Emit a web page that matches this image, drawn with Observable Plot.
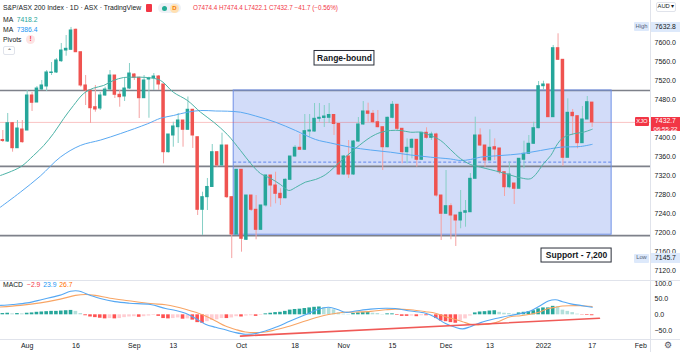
<!DOCTYPE html>
<html><head><meta charset="utf-8">
<script src="https://cdn.jsdelivr.net/npm/d3@7"></script>
<script src="https://cdn.jsdelivr.net/npm/@observablehq/plot@0.6"></script>
<style>
html,body{margin:0;padding:0;background:#fff;}
#wrap{position:relative;width:680px;height:352px;overflow:hidden;font-family:"Liberation Sans",Arial,sans-serif;color:#131722;background:#fff;}
.abs{position:absolute;white-space:nowrap;line-height:1;}
.bx{position:absolute;white-space:nowrap;display:flex;align-items:center;justify-content:center;line-height:1;}
</style></head><body><div id="wrap"></div>
<script>
// ---------- DATA ----------
const startIndex = -5; // trading-day index of first visible candle (0 = 2 Aug 2021)
const opens = [
7395.6,7392.4,7431.0,7378.3,7417.7,7415.6,7489.4,7474.6,7502.0,7508.4,
7536.8,7537.9,7561.7,7584.2,7585.7,7627.9,7580.6,7510.5,7499.9,7464.7,
7462.0,7489.4,7502.0,7531.5,7490.9,7487.3,7504.1,7533.6,7526.7,7483.7,
7523.1,7525.8,7529.4,7512.6,7369.9,7405.1,7422.6,7436.7,7417.1,7459.3,
7401.5,7248.5,7275.1,7296.6,7369.9,7341.9,7384.0,7275.1,7196.4,7332.8,
7185.3,7278.6,7248.5,7206.3,7257.6,7320.8,7299.7,7282.2,7272.9,7311.7,
7360.8,7379.2,7375.0,7413.5,7413.5,7440.3,7442.0,7442.4,7448.3,7429.3,
7322.9,7360.8,7322.9,7392.4,7428.3,7455.7,7450.8,7433.1,7422.6,7380.4,
7442.4,7469.8,7419.2,7369.9,7379.2,7396.0,7353.9,7410.8,7400.2,7407.2,
7278.6,7240.1,7256.1,7236.5,7226.0,7242.2,7243.4,7313.8,7405.1,7384.0,
7352.4,7380.4,7377.7,7327.7,7296.1,7303.9,7292.8,7353.9,7366.5,7387.6,
7420.5,7509.0,7512.6,7443.7,7589.1,7564.6,7358.1,7452.9,7445.8,7388.9,
7438.8,7474.4];
const highs = [
7415.6,7451.5,7432.5,7436.7,7436.7,7499.9,7495.7,7508.4,7521.0,7542.1,
7558.9,7567.4,7599.0,7615.8,7632.8,7629.5,7580.6,7531.5,7502.0,7510.5,
7495.7,7506.9,7542.1,7531.5,7499.9,7525.2,7556.8,7535.7,7527.9,7531.5,
7527.9,7535.7,7531.5,7512.6,7407.2,7433.1,7451.5,7436.7,7486.2,7459.9,
7401.5,7285.6,7314.5,7386.1,7371.4,7409.9,7384.0,7275.1,7332.8,7332.8,
7278.6,7278.6,7278.6,7257.6,7320.8,7320.8,7327.7,7292.8,7313.8,7360.8,
7384.0,7407.2,7449.3,7449.3,7472.5,7472.5,7468.3,7472.5,7449.3,7429.3,
7362.9,7394.5,7394.5,7443.0,7476.7,7473.2,7457.8,7457.8,7422.6,7443.7,
7476.7,7470.4,7419.8,7398.1,7398.1,7396.0,7412.0,7421.3,7412.0,7409.9,
7278.6,7331.3,7261.1,7236.5,7289.2,7268.1,7325.0,7443.7,7419.2,7384.0,
7417.1,7398.1,7377.7,7327.7,7348.8,7303.9,7356.0,7393.1,7405.1,7433.1,
7518.9,7519.5,7512.6,7594.8,7619.4,7564.6,7482.4,7459.9,7445.8,7466.2,
7487.3,7474.4];
const lows = [
7390.3,7390.3,7369.9,7377.7,7388.9,7415.6,7455.7,7474.6,7499.9,7497.8,
7531.5,7535.7,7558.9,7572.2,7584.2,7580.0,7506.9,7468.3,7430.4,7454.2,
7457.8,7487.3,7499.9,7483.1,7464.7,7476.7,7502.0,7521.0,7440.9,7483.1,
7441.5,7499.9,7499.9,7345.4,7368.2,7380.4,7388.2,7380.4,7415.6,7377.7,
7236.5,7194.3,7247.0,7296.1,7338.3,7339.8,7272.3,7145.7,7194.3,7159.2,
7183.8,7244.9,7185.3,7204.9,7254.0,7254.0,7261.1,7257.6,7271.7,7310.3,
7359.4,7373.5,7373.5,7401.5,7412.0,7433.1,7422.0,7430.4,7405.1,7320.8,
7320.8,7314.5,7320.8,7390.3,7426.2,7433.1,7429.7,7421.3,7331.3,7379.2,
7440.3,7415.6,7345.4,7345.4,7356.0,7338.3,7352.4,7397.3,7394.5,7275.1,
7183.8,7238.6,7185.3,7171.2,7208.5,7211.8,7243.4,7313.8,7381.9,7338.3,
7352.4,7352.4,7322.9,7276.5,7292.8,7259.7,7292.8,7334.9,7366.5,7386.1,
7419.2,7499.9,7443.7,7443.7,7563.2,7339.8,7358.1,7405.1,7377.1,7388.9,
7438.8,7422.1];
const closes = [
7393.5,7431.0,7378.3,7419.8,7391.0,7489.4,7474.0,7504.1,7510.5,7537.9,
7537.9,7563.2,7584.2,7587.8,7626.4,7580.6,7510.5,7499.9,7462.6,7459.9,
7489.4,7502.0,7531.5,7490.9,7485.8,7504.1,7535.7,7526.7,7483.7,7521.0,
7525.8,7529.4,7512.6,7369.9,7407.2,7424.1,7436.7,7417.1,7459.3,7405.1,
7248.5,7275.1,7296.6,7369.9,7341.9,7384.0,7275.1,7196.4,7332.8,7187.4,
7278.6,7248.5,7206.3,7257.6,7320.8,7299.7,7282.2,7272.9,7311.7,7360.8,
7379.2,7375.0,7414.2,7415.6,7440.3,7442.4,7445.1,7448.3,7429.3,7322.9,
7360.8,7322.9,7392.4,7428.3,7455.7,7450.8,7433.1,7422.6,7380.4,7442.4,
7469.8,7419.2,7369.9,7379.2,7396.0,7353.9,7410.8,7400.2,7407.2,7278.6,
7240.1,7256.1,7236.5,7226.0,7242.2,7245.5,7313.8,7405.1,7384.0,7352.4,
7379.2,7375.6,7327.7,7296.1,7322.9,7292.8,7356.0,7366.5,7387.6,7420.5,
7509.0,7512.6,7443.7,7589.1,7564.6,7358.1,7452.9,7445.8,7388.9,7438.8,
7475.3,7432.7];

// moving averages (index, value)
const maFastIdx = [-5.5,-1.4,1.3,3.4,5.4,7.5,9.5,11.6,13.6,15.7,17.7,19.8,21.8,24.7,27.4,30.0,32.9,35.6,38.3,41.1,43.8,45.9,47.9,50.0,52.0,53.7,55.1,57.1,59.2,61.3,64.3,67.4,70.5,72.5,74.6,76.7,78.7,80.8,82.8,84.9,86.9,89.0,91.0,93.1,97.2,101.3,103.3,104.4,106.0,107.5,108.9,110.1,112.2,114.2,116];
const maFastVal = [7320.8,7338.7,7362.9,7384.0,7409.3,7440.9,7468.3,7493.6,7504.8,7510.5,7521.0,7527.3,7527.9,7527.3,7521.0,7496.3,7478.9,7454.2,7433.1,7407.2,7373.5,7346.1,7325.0,7314.5,7301.8,7289.2,7295.5,7306.7,7312.4,7322.9,7350.3,7377.7,7401.5,7411.4,7415.6,7415.6,7412.0,7412.0,7405.1,7394.5,7375.6,7356.0,7344.0,7338.3,7327.7,7315.9,7313.8,7322.9,7345.4,7362.9,7387.6,7400.8,7408.7,7412.0,7418.2];
const maSlowIdx = [-5.5,-1.4,2.7,6.8,10.9,15.1,19.2,24.7,27.4,30.0,32.9,35.6,38.7,41.1,43.8,46.9,51.0,55.1,59.2,62.3,66.4,70.5,74.6,78.7,82.8,86.9,89.0,91.0,93.1,97.2,101.3,105.4,109.5,113.6,116];
const maSlowVal = [7254.0,7285.6,7319.7,7359.4,7384.0,7395.6,7409.3,7429.7,7441.5,7447.2,7454.2,7457.8,7456.7,7456.3,7454.2,7446.2,7433.1,7415.6,7396.7,7389.3,7380.4,7374.5,7369.9,7364.0,7359.4,7355.6,7352.4,7354.5,7359.4,7362.9,7366.5,7373.5,7380.4,7381.9,7386.4];

// MACD pane
const histVals = [
4,5,3,4,3,5,6,8,9,10,
11,11,12,13,14,11,4,-3,-7,-9,
-11,-13,-12,-13,-12,-9,-7,-6,-8,-6,
-4,-2,-5,-12,-13,-12,-10,-14,-13,-17,
-25,-27,-22,-18,-16,-12,-12,-10,-6,-7,
-4,-3,-5,-2,3,5,7,8,11,15,
17,18,20,22,24,25,23,21,16,6,
2,1,4,6,7,7,5,4,1,3,
3,-2,-5,-5,-4,-6,-3,-3,-2,-12,
-20,-22,-25,-27,-20,-13,-4,6,9,10,
12,13,8,5,4,2,6,8,10,13,
19,22,22,27,26,15,11,7,2,-1,
-2,-2.9];
const macdIdx = [-5.5,-3,0,3.1,6.6,8.9,10.5,13,15,18,21,25.3,28.4,30.5,32.5,34.6,36.6,38.7,40.7,42.8,44.8,46.9,48.9,51,54,57.1,59.8,61.9,63.9,65.4,67.4,70.5,73.6,75.6,78.7,81.8,83.8,85.9,87.9,89.4,91,93.1,96.2,99.2,101.3,103.3,105.4,107,108.5,109.9,111.6,113.6,116];
const macdVals = [30,33,38,49,62,75,76,62,52,42,37,33,20,14,5,-12,-30,-40,-48,-57,-62,-60,-52,-40,-20,0,18,24,16,8,12,18,21,20,12,5,-8,-28,-40,-45,-38,-25,-12,-2,4,12,30,44,48,42,35,30,23.9];
const signalIdx = [-5.5,-1.4,2.7,6.8,9.9,12,14,17,20.8,25.3,28.4,30.5,32.5,34.6,36.6,38.7,40.7,42.8,44.8,46.9,48.9,51,54,57.1,59.8,61.9,63.9,65.4,67.4,70.5,73.6,75.6,78.7,81.8,83.8,85.9,87.9,89.4,91,93.1,96.2,99.2,101.3,103.3,105.4,107,108.5,109.9,111.6,113.6,116];
const signalVals = [25,30,38,50,62,65,62,53,45,36,32,26,18,8,-4,-20,-36,-47,-55,-57,-55,-48,-36,-20,-7,1,6,8,9,11,16,18,16,10,5,-6,-15,-22,-30,-32,-25,-6,-3,2,10,20,24,28,29,29,26.7];
const trendIdx = [43.8, 117.5];
const trendVals = [-68, -11];

// levels & annotations
const levels = [7500, 7340, 7194];
const pivotLevel = 7349;
const rangeStart = 42.4, rangeEnd = 120.0, rangeTop = 7500, rangeBottom = 7196;
const lastClose = 7432.7;
const priceTicks = [7120,7160,7200,7240,7280,7320,7360,7400,7480,7520,7560,7600];
const macdTicks = [-50, 0, 50, 100];
const tickIdx = [0, 10, 22, 30, 44, 55, 65, 75, 86, 95, 106, 116, 126];
const tickLabels = ["Aug","16","Sep","13","Oct","18","Nov","15","Dec","13","2022","17","Feb"];
const notes = [
  {text: "Range-bound", x: 65.15, y: 7567.9, x1: 59.0, x2: 71.3, y1: 7552.6, y2: 7583.2},
  {text: "Support - 7,200", x: 112.8, y: 7152.1, x1: 105.6, x2: 120.0, y1: 7137.4, y2: 7166.9}
];

// ---------- BUILD ----------
const candles = opens.map((o, k) => ({i: startIndex + k, o, h: highs[k], l: lows[k], c: closes[k]}));
const upC = candles.filter(d => d.c >= d.o), dnC = candles.filter(d => d.c < d.o);
const GREEN = "#26a69a", RED = "#ef5350";
const maFast = maFastIdx.map((i, k) => ({i, v: maFastVal[k]}));
const maSlow = maSlowIdx.map((i, k) => ({i, v: maSlowVal[k]}));
const hist = histVals.map((v, k) => {
  const p = k > 0 ? histVals[k - 1] : v;
  const color = v >= 0 ? (v >= p ? "#26a69a" : "#b2dfdb") : (v <= p ? "#ff5252" : "#ffcdd2");
  return {i: startIndex + k, v, color};
});
const macd = macdIdx.map((i, k) => ({i, v: macdVals[k]}));
const signal = signalIdx.map((i, k) => ({i, v: signalVals[k]}));
const trend = trendIdx.map((i, k) => ({i, v: trendVals[k]}));
const tickMap = new Map(tickIdx.map((t, k) => [t, tickLabels[k]]));

const W = 680, RIGHT = 30, MAIN_H = 280, MACD_H = 72;
const xDomain = [-5.48, 127.98];
const FONT = "'Liberation Sans', Arial, sans-serif";
const baseStyle = {fontFamily: FONT, fontSize: "7px", color: "#131722", background: "transparent"};

const main = Plot.plot({
  width: W, height: MAIN_H,
  marginLeft: 0, marginRight: RIGHT, marginTop: 0, marginBottom: 0,
  style: baseStyle,
  x: {domain: xDomain, axis: null},
  y: {domain: [7099.5, 7689.6], axis: "right", ticks: priceTicks, tickFormat: d => d.toFixed(1), tickSize: 0, tickPadding: 4, label: null},
  color: {type: "identity"},
  marks: [
    Plot.rect([{x1: rangeStart, x2: rangeEnd, y1: rangeBottom, y2: rangeTop}], {x1: "x1", x2: "x2", y1: "y1", y2: "y2", fill: "#d2dcf9"}),
    Plot.ruleY(levels, {y: d => d, stroke: "#7e818a", strokeWidth: 1.6}),
    Plot.rect([{x1: rangeStart, x2: rangeEnd, y1: rangeBottom, y2: rangeTop}], {x1: "x1", x2: "x2", y1: "y1", y2: "y2", fill: "none", stroke: "#6f8fe6", strokeWidth: 1}),
    Plot.ruleY([{y: pivotLevel, x1: rangeStart, x2: rangeEnd}], {y: "y", x1: "x1", x2: "x2", stroke: "#5f86ee", strokeWidth: 1, strokeDasharray: "3,2"}),
    Plot.ruleY([lastClose], {y: d => d, stroke: RED, strokeOpacity: 0.35, strokeWidth: 1}),
    Plot.ruleX(upC, {x: "i", y1: "l", y2: "h", stroke: "#86cfc6", strokeWidth: 1}),
    Plot.ruleX(dnC, {x: "i", y1: "l", y2: "h", stroke: "#f5a2a2", strokeWidth: 1}),
    Plot.rect(upC, {x1: d => d.i - 0.36, x2: d => d.i + 0.36, y1: d => Math.min(d.o, d.c), y2: d => Math.max(d.o, d.c), fill: GREEN, insetTop: -0.5, insetBottom: -0.5}),
    Plot.rect(dnC, {x1: d => d.i - 0.36, x2: d => d.i + 0.36, y1: d => Math.min(d.o, d.c), y2: d => Math.max(d.o, d.c), fill: RED, insetTop: -0.5, insetBottom: -0.5}),
    Plot.line(maSlow, {x: "i", y: "v", stroke: "#5aa9f2", strokeWidth: 1, curve: "catmull-rom"}),
    Plot.line(maFast, {x: "i", y: "v", stroke: "#4db3a7", strokeWidth: 1, curve: "catmull-rom"}),
    Plot.rect(notes, {x1: "x1", x2: "x2", y1: "y1", y2: "y2", fill: "white", stroke: "#2a2e39", strokeWidth: 1}),
    Plot.text(notes, {x: "x", y: "y", text: "text", fill: "#131722", fontWeight: "bold", fontSize: 8.5, fontFamily: FONT})
  ]
});

const macdPlot = Plot.plot({
  width: W, height: MACD_H,
  marginLeft: 0, marginRight: RIGHT, marginTop: 0, marginBottom: 13,
  style: baseStyle,
  x: {domain: xDomain, axis: "bottom", ticks: tickIdx, tickFormat: d => tickMap.get(d), tickSize: 0, tickPadding: 4, label: null},
  y: {domain: [-78.9, 109.6], axis: "right", ticks: macdTicks, tickFormat: d => d.toFixed(1).replace("-", "\u2212"), tickSize: 0, tickPadding: 4, label: null},
  color: {type: "identity"},
  marks: [
    Plot.rect(hist, {x1: d => d.i - 0.37, x2: d => d.i + 0.37, y1: 0, y2: "v", fill: "color"}),
    Plot.line(signal, {x: "i", y: "v", stroke: "#f8a565", strokeWidth: 1.1, curve: "catmull-rom"}),
    Plot.line(macd, {x: "i", y: "v", stroke: "#56a8f3", strokeWidth: 1.1, curve: "catmull-rom"}),
    Plot.line(trend, {x: "i", y: "v", stroke: "#f05a57", strokeWidth: 1.6})
  ]
});

const wrap = document.getElementById("wrap");
main.style.position = "absolute"; main.style.left = "0px"; main.style.top = "0px";
macdPlot.style.position = "absolute"; macdPlot.style.left = "0px"; macdPlot.style.top = MAIN_H + "px";
wrap.append(main, macdPlot);

function scaleFn(plot, name) {
  const s = plot.scale(name);
  if (s && typeof s.apply === "function") return v => s.apply(v);
  const [d0, d1] = s.domain, [r0, r1] = s.range;
  return v => r0 + (v - d0) / (d1 - d0) * (r1 - r0);
}
const yM = scaleFn(main, "y");
const yHigh = yM(d3.max(highs)), yLow = yM(d3.min(lows)), yLast = yM(lastClose);

const over = document.createElement("div");
over.innerHTML = `
<div class="abs" style="left:0;top:${MAIN_H}px;width:680px;height:0;border-top:1px solid #e0e3eb"></div>
<div class="abs" style="left:0;top:339px;width:680px;height:0;border-top:1px solid #e0e3eb"></div>
<div class="abs" style="left:650px;top:0;width:0;height:352px;border-left:1px solid #e0e3eb"></div>

<div class="abs" style="left:3px;top:4.5px;font-size:6.8px;color:#131722">S&amp;P/ASX 200 Index · 1D · ASX · TradingView</div>
<div class="abs" style="left:146px;top:4px;width:6px;height:8px;background:#f23645;border-radius:1px"></div>
<div class="abs" style="left:158px;top:3px;width:23px;height:10px;background:#eef1f6;border-radius:5px"></div>
<div class="abs" style="left:161.5px;top:5.5px;width:5px;height:5px;background:#22ab94;border-radius:50%"></div>
<div class="bx" style="left:170px;top:3.5px;width:9px;height:9px;background:#ffe0b2;border-radius:50%;color:#f57c00;font-size:6px;font-weight:bold">D</div>
<div class="abs" style="left:193px;top:5px;font-size:6.3px;color:#f23645">O7474.4 H7474.4 L7422.1 C7432.7 \u221241.7 (\u22120.56%)</div>

<div class="abs" style="left:3px;top:16.5px;font-size:6.8px;color:#131722">MA <span style="color:#26a69a;margin-left:2px">7418.2</span></div>
<div class="abs" style="left:3px;top:26.5px;font-size:6.8px;color:#131722">MA <span style="color:#2196f3;margin-left:2px">7386.4</span></div>
<div class="abs" style="left:3px;top:36.5px;font-size:6.8px;color:#131722">Pivots</div>
<div class="bx" style="left:26px;top:35px;width:9px;height:9px;background:#fde3e3;border-radius:50%;color:#f23645;font-size:6.5px;font-weight:bold">!</div>
<div class="bx" style="left:3px;top:46px;width:12px;height:9px;border:1px solid #e0e3eb;border-radius:2px;color:#131722;font-size:6px;box-sizing:border-box">&#8963;</div>

<div class="bx" style="left:656px;top:1.5px;width:20px;height:10px;background:#fff;border:1px solid #e0e3eb;border-radius:2px;box-sizing:border-box;font-size:5.8px;color:#131722">AUD &#9662;</div>

<div class="bx" style="left:634px;top:${yHigh - 4.5}px;width:15px;height:9px;background:#dde9fb;color:#56627a;font-size:5.8px;border-radius:1px">High</div>
<div class="bx" style="left:651px;top:${yHigh - 5}px;width:29px;height:10px;background:#dde9fb;color:#131722;font-size:6.8px">7632.8</div>
<div class="bx" style="left:634px;top:${yLow - 4.5}px;width:15px;height:9px;background:#dde9fb;color:#56627a;font-size:5.8px;border-radius:1px">Low</div>
<div class="bx" style="left:651px;top:${yLow - 5}px;width:29px;height:10px;background:#dde9fb;color:#131722;font-size:6.8px">7145.7</div>

<div class="bx" style="left:635px;top:${yLast - 4.5}px;width:14px;height:9px;background:#f23645;color:#fff;font-size:5.8px;border-radius:1px">XJO</div>
<div class="abs" style="left:651px;top:${yLast - 5}px;width:29px;height:14px;background:#f23645;color:#fff;font-size:6.8px;text-align:center">
  <div style="margin-top:1.5px">7432.7</div><div style="margin-top:1px;font-size:6.2px">06:55:22</div></div>

<div class="abs" style="left:3px;top:282px;font-size:6.8px;color:#131722">MACD <span style="color:#f23645;margin-left:2px">\u22122.9</span> <span style="color:#2196f3;margin-left:1px">23.9</span> <span style="color:#ff6d00;margin-left:1px">26.7</span></div>

<div class="abs" style="left:664px;top:341px;font-size:9px;color:#50535e">&#9881;</div>
`;
while (over.firstChild) wrap.append(over.firstChild);
</script>
</body></html>
